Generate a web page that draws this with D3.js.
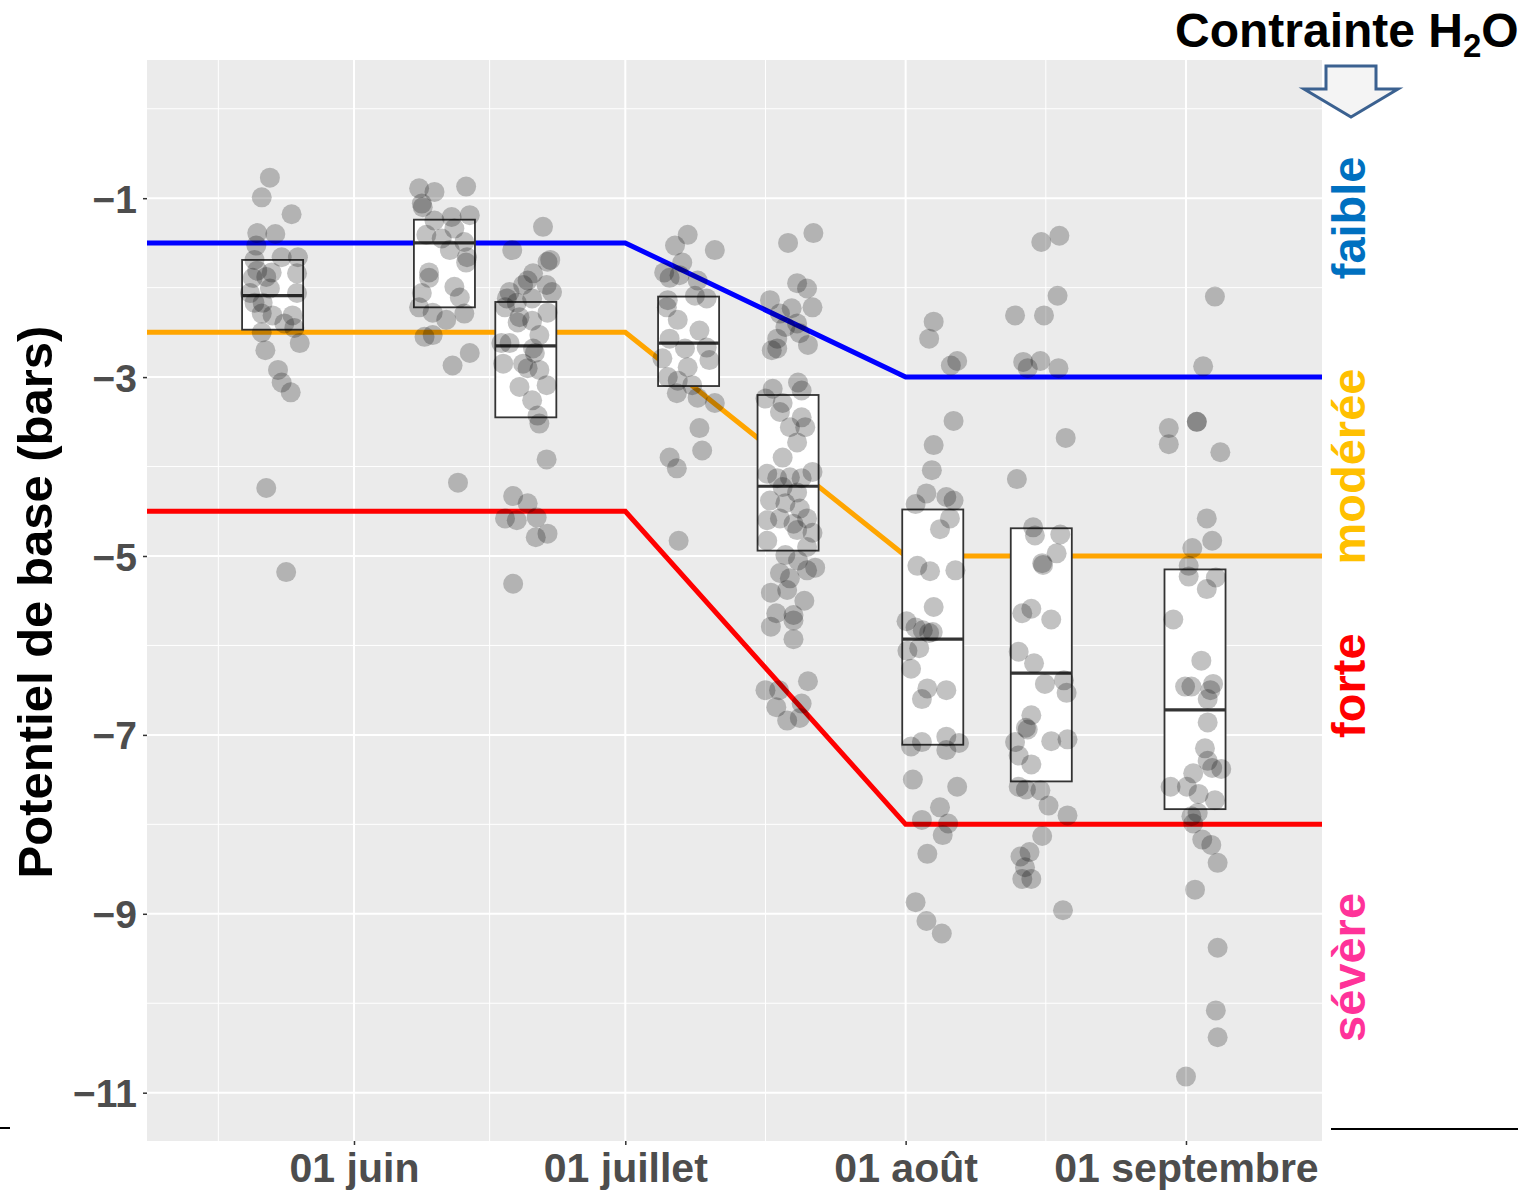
<!DOCTYPE html>
<html><head><meta charset="utf-8">
<script src="https://cdn.jsdelivr.net/npm/d3@7"></script>
<style>body{margin:0;background:#fff}svg{display:block}text{font-family:"Liberation Sans",Arial,sans-serif;font-weight:bold}</style>
</head><body><svg id="chart" width="1538" height="1193"></svg>
<script>
// ---- data ----
const xDomainDates = ["2018-05-09T02:40", "2018-09-16T01:00"];
const xMajorDates = ["2018-06-01", "2018-07-01", "2018-08-01", "2018-09-01"];
const xTickLabels = ["01 juin", "01 juillet", "01 août", "01 septembre"];
const xMinorDates = ["2018-05-17", "2018-06-16", "2018-07-16T12:00", "2018-08-16T12:00"];
const yMajorTicks = [-1, -3, -5, -7, -9, -11];
const yMinorTicks = [0, -2, -4, -6, -8, -10];
const yDomain = [-11.54, 0.545];

const thresholdDates = ["2018-05-09T02:40", "2018-07-01", "2018-08-01", "2018-09-16T01:00"];
const faibleLimit = [-1.5, -1.5, -3, -3];
const modereeLimit = [-2.5, -2.5, -5, -5];
const forteLimit = [-4.5, -4.5, -8, -8];

const groupDates = ["2018-05-23", "2018-06-11", "2018-06-20", "2018-07-08", "2018-07-19", "2018-08-04", "2018-08-16", "2018-09-02"];
const boxLower = [-2.47, -2.22, -3.45, -3.10, -4.94, -7.11, -7.52, -7.83];
const boxMedian = [-2.09, -1.50, -2.65, -2.62, -4.22, -5.93, -6.31, -6.72];
const boxUpper = [-1.69, -1.24, -2.16, -2.10, -3.20, -4.48, -4.69, -5.15];
const boxWidthDays = 6.75;

// points: [day offset from group date, potentiel]
const pointsG1 = [[-0.3,-0.77],[-1.2,-0.99],[2.1,-1.18],[-1.7,-1.39],[0.3,-1.40],[-1.8,-1.53],[1.0,-1.66],[2.8,-1.66],[-2.0,-1.69],[-1.7,-1.81],[-0.1,-1.83],[2.7,-1.84],[-2.2,-1.89],[-0.7,-1.88],[-2.5,-2.06],[2.7,-2.06],[-0.3,-2.01],[-2.0,-2.17],[-1.1,-2.17],[-1.2,-2.29],[0.0,-2.31],[1.3,-2.40],[2.2,-2.31],[2.4,-2.45],[-1.2,-2.50],[3.0,-2.62],[-0.8,-2.70],[0.6,-2.92],[1.0,-3.06],[2.0,-3.17],[-0.7,-4.24],[1.5,-5.18]];
const pointsG2 = [[-2.8,-0.89],[-1.1,-0.93],[2.4,-0.87],[-2.5,-1.06],[-2.4,-1.10],[-1.1,-1.25],[0.8,-1.21],[2.8,-1.19],[1.1,-1.34],[-2.0,-1.41],[-0.3,-1.45],[2.2,-1.49],[0.6,-1.58],[2.5,-1.66],[2.4,-1.72],[-1.7,-1.83],[-1.7,-1.89],[1.1,-1.99],[1.7,-2.11],[-2.5,-2.06],[-2.8,-2.22],[-1.3,-2.28],[2.2,-2.29],[0.2,-2.36],[-2.2,-2.55],[-1.3,-2.53],[2.8,-2.73],[0.9,-2.87],[1.5,-4.18]];
const pointsG3 = [[1.9,-1.32],[-1.5,-1.58],[2.7,-1.69],[2.4,-1.71],[0.8,-1.84],[0.2,-1.92],[-0.3,-1.97],[2.3,-1.97],[-1.8,-2.05],[2.9,-2.05],[-2.1,-2.12],[0.7,-2.12],[-1.0,-2.17],[-2.3,-2.22],[2.4,-2.28],[-0.7,-2.33],[-0.9,-2.39],[0.7,-2.37],[1.5,-2.53],[-2.7,-2.62],[-1.8,-2.62],[0.8,-2.68],[1.0,-2.73],[-2.5,-2.85],[-0.3,-2.85],[0.2,-2.90],[1.5,-2.92],[2.3,-3.09],[-0.7,-3.11],[0.7,-3.26],[1.3,-3.43],[1.5,-3.52],[2.3,-3.92],[-1.4,-4.33],[0.2,-4.41],[-2.3,-4.58],[-1.0,-4.60],[1.2,-4.57],[2.4,-4.75],[1.1,-4.79],[-1.4,-5.31]];
const pointsG4 = [[-0.1,-1.41],[-1.5,-1.53],[2.9,-1.58],[-0.7,-1.72],[-2.7,-1.83],[-2.1,-1.89],[1.0,-1.92],[-1.0,-1.86],[0.7,-2.09],[2.0,-2.12],[-2.3,-2.14],[-2.4,-2.22],[-1.2,-2.36],[1.2,-2.48],[-2.1,-2.57],[-0.4,-2.68],[2.0,-2.67],[-2.9,-2.79],[2.3,-2.81],[-0.1,-2.89],[-2.3,-3.00],[-1.2,-3.04],[0.4,-3.09],[-1.3,-3.18],[1.0,-3.23],[2.9,-3.29],[1.2,-3.57],[1.5,-3.82],[-2.1,-3.90],[-1.3,-4.02],[-1.1,-4.83]];
const pointsG5 = [[0.0,-1.50],[2.8,-1.39],[1.0,-1.95],[2.1,-2.01],[-2.0,-2.14],[0.4,-2.23],[2.7,-2.22],[-0.9,-2.29],[1.0,-2.40],[-0.3,-2.44],[1.3,-2.51],[-1.2,-2.57],[2.2,-2.64],[-1.8,-2.70],[-1.2,-2.68],[1.1,-3.06],[-1.7,-3.13],[1.5,-3.15],[-2.5,-3.24],[-0.6,-3.29],[-0.9,-3.39],[1.5,-3.45],[0.2,-3.56],[1.9,-3.56],[1.0,-3.73],[-0.6,-3.90],[-2.3,-4.08],[2.7,-4.06],[-1.2,-4.13],[0.2,-4.12],[1.5,-4.13],[-0.6,-4.23],[1.0,-4.29],[-2.0,-4.38],[-0.3,-4.41],[1.3,-4.47],[-2.3,-4.60],[-0.9,-4.58],[0.6,-4.64],[2.1,-4.58],[1.0,-4.71],[2.7,-4.74],[-2.3,-4.83],[2.1,-4.90],[-0.3,-4.99],[1.1,-5.05],[3.0,-5.13],[2.1,-5.16],[-0.9,-5.19],[0.2,-5.25],[-1.9,-5.41],[-0.1,-5.38],[1.8,-5.50],[-1.3,-5.64],[0.6,-5.66],[-1.9,-5.79],[0.6,-5.72],[0.6,-5.93],[2.2,-6.40],[-2.5,-6.50],[-1.0,-6.50],[1.5,-6.65],[-1.3,-6.69],[-0.1,-6.84],[1.3,-6.81]];
const pointsG6 = [[0.1,-2.38],[-0.4,-2.57],[2.0,-2.87],[2.7,-2.82],[2.3,-3.49],[0.1,-3.76],[-0.1,-4.04],[-0.7,-4.30],[-1.9,-4.42],[1.5,-4.34],[2.3,-4.38],[1.9,-4.58],[0.8,-4.70],[-1.7,-5.11],[-0.3,-5.17],[2.5,-5.16],[0.1,-5.57],[-2.9,-5.73],[-1.9,-5.80],[-1.1,-5.83],[0.0,-5.85],[-0.4,-5.86],[-2.8,-6.06],[-1.5,-6.03],[-2.4,-6.26],[-0.6,-6.48],[-1.2,-6.60],[1.5,-6.50],[-2.4,-7.13],[-1.2,-7.08],[1.5,-7.02],[1.5,-7.17],[2.9,-7.09],[-2.2,-7.50],[2.7,-7.58],[0.8,-7.81],[-1.2,-7.95],[1.7,-7.99],[1.1,-8.12],[-0.6,-8.33],[-1.9,-8.87],[-0.7,-9.08],[1.0,-9.22]];
const pointsG7 = [[0.0,-1.49],[2.0,-1.42],[1.8,-2.09],[-2.9,-2.31],[0.3,-2.31],[-2.0,-2.83],[-0.1,-2.82],[-1.5,-2.90],[1.9,-2.90],[2.7,-3.68],[-2.7,-4.14],[-0.9,-4.68],[-0.7,-4.77],[2.1,-4.76],[1.7,-4.97],[0.1,-5.08],[0.2,-5.10],[-2.1,-5.64],[-1.1,-5.59],[1.1,-5.71],[-2.5,-6.07],[-0.8,-6.20],[0.4,-6.43],[2.5,-6.39],[2.8,-6.53],[-1.1,-6.78],[-1.7,-6.92],[-1.5,-6.94],[-2.9,-7.08],[1.1,-7.07],[2.9,-7.05],[-2.5,-7.23],[-1.1,-7.33],[-2.5,-7.58],[-1.7,-7.61],[-0.1,-7.62],[0.8,-7.79],[2.9,-7.90],[0.1,-8.13],[-2.3,-8.36],[-1.3,-8.31],[-1.8,-8.48],[-2.1,-8.61],[-1.1,-8.61],[2.4,-8.96]];
const pointsG8 = [[2.2,-2.10],[0.9,-2.88],[0.2,-3.50],[0.2,-3.50],[-2.9,-3.57],[-2.9,-3.75],[2.8,-3.84],[1.3,-4.58],[1.9,-4.83],[-0.3,-4.91],[-0.7,-5.11],[-0.7,-5.23],[2.3,-5.24],[1.3,-5.37],[-2.4,-5.71],[0.7,-6.17],[-1.1,-6.46],[-0.4,-6.46],[2.0,-6.43],[1.7,-6.50],[1.4,-6.60],[1.4,-6.86],[1.1,-7.15],[1.4,-7.29],[1.9,-7.37],[2.9,-7.38],[-0.2,-7.43],[-2.7,-7.58],[-0.9,-7.58],[0.4,-7.66],[2.2,-7.73],[0.3,-7.87],[-0.4,-7.91],[-0.2,-7.99],[0.8,-8.17],[1.8,-8.23],[2.5,-8.43],[0.0,-8.73],[2.5,-9.38],[2.3,-10.08],[2.5,-10.38],[-1.0,-10.82]];
const groupPoints = [pointsG1, pointsG2, pointsG3, pointsG4, pointsG5, pointsG6, pointsG7, pointsG8];

const stressLabels = ["faible", "modérée", "forte", "sévère"];
const stressColors = ["#0070C0", "#FFC000", "#FF0000", "#FF3399"];
const stressLabelCentres = [-1.22, -4.0, -6.45, -9.6];

// ---- drawing ----
const parse = s => new Date((s.length === 10 ? s + "T00:00" : s) + ":00Z");
const DAY = 86400000;
const P = {l: 147, r: 1322, t: 60, b: 1141};
const svg = d3.select("#chart");
svg.append("rect").attr("width", 1538).attr("height", 1193).attr("fill", "#fff");

const x = d3.scaleUtc().domain(xDomainDates.map(parse)).range([P.l, P.r]);
const y = d3.scaleLinear().domain(yDomain).range([P.b, P.t]);

svg.append("defs").append("clipPath").attr("id", "clip")
  .append("rect").attr("x", P.l).attr("y", P.t).attr("width", P.r - P.l).attr("height", P.b - P.t);

svg.append("rect").attr("x", P.l).attr("y", P.t).attr("width", P.r - P.l).attr("height", P.b - P.t).attr("fill", "#EBEBEB");

const grid = svg.append("g");
yMinorTicks.forEach(v => grid.append("line").attr("x1", P.l).attr("x2", P.r).attr("y1", y(v)).attr("y2", y(v)).attr("stroke", "#fff").attr("stroke-width", 1));
xMinorDates.forEach(d => grid.append("line").attr("y1", P.t).attr("y2", P.b).attr("x1", x(parse(d))).attr("x2", x(parse(d))).attr("stroke", "#fff").attr("stroke-width", 1));
yMajorTicks.forEach(v => grid.append("line").attr("x1", P.l).attr("x2", P.r).attr("y1", y(v)).attr("y2", y(v)).attr("stroke", "#fff").attr("stroke-width", 2));
xMajorDates.forEach(d => grid.append("line").attr("y1", P.t).attr("y2", P.b).attr("x1", x(parse(d))).attr("x2", x(parse(d))).attr("stroke", "#fff").attr("stroke-width", 2));

// threshold lines
const line = d3.line().x(d => x(d[0])).y(d => y(d[1]));
const tDates = thresholdDates.map(parse);
[[faibleLimit, "#0000FF"], [modereeLimit, "#FFA500"], [forteLimit, "#FF0000"]].forEach(([vals, col]) => {
  svg.append("path").attr("clip-path", "url(#clip)")
    .attr("d", line(tDates.map((d, i) => [d, vals[i]])))
    .attr("fill", "none").attr("stroke", col).attr("stroke-width", 5);
});

// boxes
const gBox = svg.append("g");
groupDates.forEach((gd, i) => {
  const c = parse(gd).getTime();
  const x0 = x(new Date(c - boxWidthDays / 2 * DAY)), x1 = x(new Date(c + boxWidthDays / 2 * DAY));
  gBox.append("rect").attr("x", x0).attr("y", y(boxUpper[i])).attr("width", x1 - x0)
    .attr("height", y(boxLower[i]) - y(boxUpper[i])).attr("fill", "#fff").attr("stroke", "#333").attr("stroke-width", 1.8);
  gBox.append("line").attr("x1", x0).attr("x2", x1).attr("y1", y(boxMedian[i])).attr("y2", y(boxMedian[i]))
    .attr("stroke", "#333").attr("stroke-width", 3.2);
});

// points
const gPts = svg.append("g");
groupDates.forEach((gd, i) => {
  const c = parse(gd).getTime();
  gPts.selectAll(null).data(groupPoints[i]).enter().append("circle")
    .attr("cx", d => x(new Date(c + d[0] * DAY))).attr("cy", d => y(d[1])).attr("r", 10)
    .attr("fill", "#000").attr("fill-opacity", 0.24);
});

// axes
const yAxis = svg.append("g").attr("transform", `translate(${P.l},0)`)
  .call(d3.axisLeft(y).tickValues(yMajorTicks).tickSize(4).tickPadding(6).tickFormat(d3.format("d")));
yAxis.select(".domain").remove();
yAxis.selectAll(".tick line").attr("stroke", "#333").attr("stroke-width", 1.5);
yAxis.selectAll(".tick text").attr("fill", "#4D4D4D").style("font-size", "39px").attr("dy", "0.36em");

const xAxis = svg.append("g").attr("transform", `translate(0,${P.b})`)
  .call(d3.axisBottom(x).tickValues(xMajorDates.map(parse)).tickSize(4).tickPadding(8)
    .tickFormat((d, i) => xTickLabels[i]));
xAxis.select(".domain").remove();
xAxis.selectAll(".tick line").attr("stroke", "#333").attr("stroke-width", 1.5);
xAxis.selectAll(".tick text").attr("fill", "#4D4D4D").style("font-size", "41px").attr("dy", "0.7em");

// y title
svg.append("text").attr("transform", "translate(52,602) rotate(-90)").attr("text-anchor", "middle")
  .style("font-size", "49px").attr("fill", "#000").text("Potentiel de base (bars)");

// stress labels
stressLabels.forEach((s, i) => {
  svg.append("text").attr("transform", `translate(1365,${y(stressLabelCentres[i])}) rotate(-90)`)
    .attr("text-anchor", "middle").style("font-size", "47px").attr("fill", stressColors[i]).text(s);
});

// title top right
const tt = svg.append("text").attr("x", 1175).attr("y", 47).style("font-size", "48px").attr("fill", "#000");
tt.append("tspan").text("Contrainte H");
tt.append("tspan").attr("dy", 10).style("font-size", "33px").text("2");
tt.append("tspan").attr("dy", -10).text("O");

// arrow
svg.append("polygon")
  .attr("points", [[1326,66],[1376,66],[1376,89],[1398,89],[1351,117],[1304,89],[1326,89]].map(p => p.join(",")).join(" "))
  .attr("fill", "#F4F4F4").attr("stroke", "#3B6190").attr("stroke-width", 3).attr("stroke-linejoin", "miter");

// stray rules
svg.append("line").attr("x1", 0).attr("x2", 10).attr("y1", 1128).attr("y2", 1128).attr("stroke", "#000").attr("stroke-width", 2);
svg.append("line").attr("x1", 1331).attr("x2", 1518).attr("y1", 1129).attr("y2", 1129).attr("stroke", "#000").attr("stroke-width", 2);
</script></body></html>
